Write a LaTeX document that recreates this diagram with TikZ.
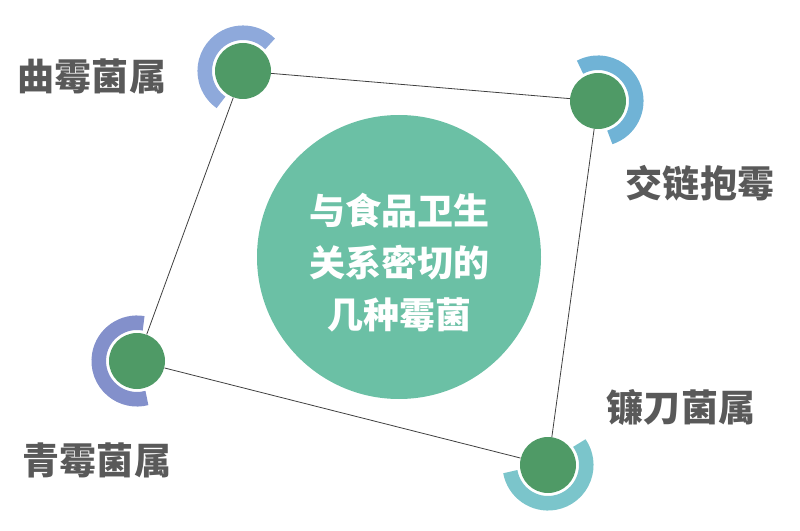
\documentclass[tikz,border=0pt]{standalone}
\usepackage{fontspec}
\setmainfont{Noto Sans CJK SC}
\definecolor{dotgreen}{HTML}{4F9A66}
\definecolor{bigteal}{HTML}{6BC0A5}
\definecolor{labelgray}{HTML}{595959}
\definecolor{ringA}{HTML}{8EA9DB}
\definecolor{ringB}{HTML}{70B3D6}
\definecolor{ringC}{HTML}{8390CB}
\definecolor{ringD}{HTML}{7BC5CB}

\begin{document}
\begin{tikzpicture}[x=0.75pt,y=-0.75pt,
                    dot node/.style={circle,fill=dotgreen,minimum size=42pt,inner sep=0pt},
                    big node/.style={circle,fill=bigteal,minimum size=213pt,inner sep=0pt},
                    mid text/.style={align=center,text=white,inner sep=0pt,
                      font=\bfseries\fontsize{27}{39}\selectfont},
                    name node/.style={text=labelgray,inner sep=0pt,font=\bfseries\fontsize{27.8}{30}\selectfont},
                    ring/.style={line width=10.9pt}]
  \useasboundingbox (0,0) rectangle (800,531);
  \node[big node] (mid) at (399,257) {};
  \node[mid text] (midtext) at (399,263) {与食品卫生\\关系密切的\\几种霉菌};
  \node[dot node] (tl) at (243,71) {};
  \node[dot node] (tr) at (598,101) {};
  \node[dot node] (br) at (548,465) {};
  \node[dot node] (bl) at (137,361) {};
  % rings round the dots
  \draw[ring,ringA] ([shift={(45:28.7pt)}]tl.center) arc[start angle=45,end angle=235,radius=28.7pt];
  \draw[ring,ringB] ([shift={(-72:28.7pt)}]tr.center) arc[start angle=-72,end angle=118,radius=28.7pt];
  \draw[ring,ringD] ([shift={(-170:28.7pt)}]br.center) arc[start angle=-170,end angle=35,radius=28.7pt];
  \draw[ring,ringC] ([shift={(80:28.7pt)}]bl.center) arc[start angle=80,end angle=285,radius=28.7pt];
  \path[draw=black!75,line width=0.6pt]
    (tl) edge (tr)
    (tr) edge (br)
    (br) edge (bl)
    (bl) edge (tl);
  \node[name node] (tlname) at (92,76) {曲霉菌属};
  \node[name node] (trname) at (700,183) {交链抱霉};
  \node[name node] (brname) at (681,408) {镰刀菌属};
  \node[name node] (blname) at (97,460) {青霉菌属};
\end{tikzpicture}
\end{document}
